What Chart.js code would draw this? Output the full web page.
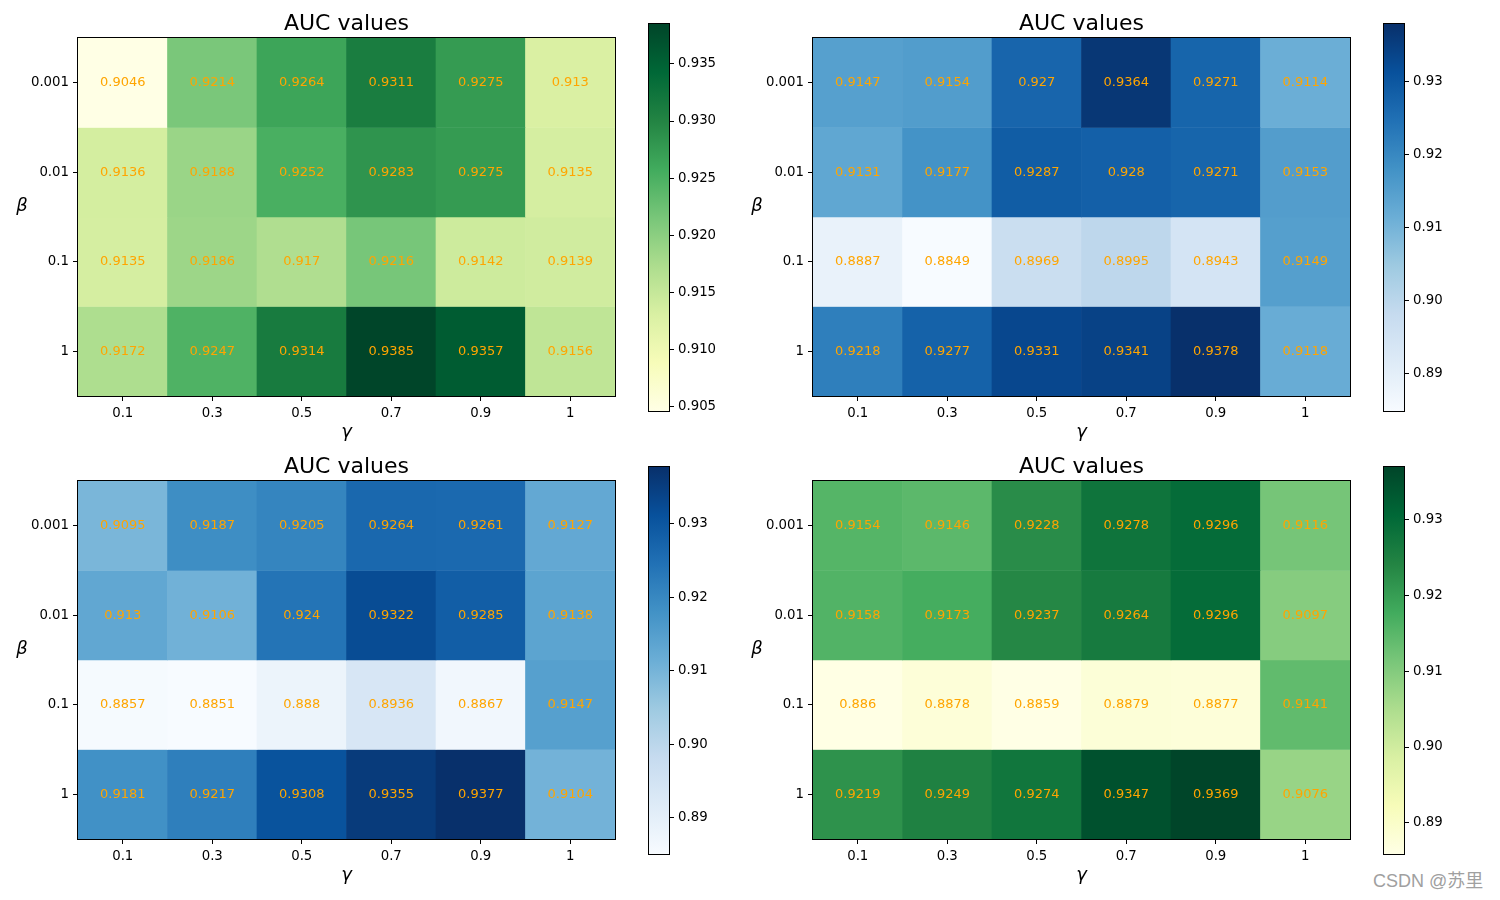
<!DOCTYPE html>
<html>
<head>
<meta charset="utf-8">
<script src="https://cdn.jsdelivr.net/npm/chart.js@4.4.1/dist/chart.umd.min.js"></script>
<style>
  body { margin: 0; background: #fff; width: 1500px; height: 900px; position: relative; overflow: hidden; }
  canvas { position: absolute; }
  #mark { position: absolute; left: 1373px; top: 869px; font-size: 18px; line-height: 24px; color: #a0a0a0;
          font-family: "Liberation Sans", "Noto Sans CJK SC", sans-serif; }
</style>
</head>
<body>
<div id="mark">CSDN @苏里</div>
<script>
// axis labels
const gammaLabels = ["0.1", "0.3", "0.5", "0.7", "0.9", "1"];
const betaLabels = ["0.001", "0.01", "0.1", "1"];

// AUC grids, one row per beta (top to bottom), one column per gamma
const aucTopLeft = [
  [0.9046, 0.9214, 0.9264, 0.9311, 0.9275, 0.913],
  [0.9136, 0.9188, 0.9252, 0.9283, 0.9275, 0.9135],
  [0.9135, 0.9186, 0.917, 0.9216, 0.9142, 0.9139],
  [0.9172, 0.9247, 0.9314, 0.9385, 0.9357, 0.9156]
];
const aucTopRight = [
  [0.9147, 0.9154, 0.927, 0.9364, 0.9271, 0.9114],
  [0.9131, 0.9177, 0.9287, 0.928, 0.9271, 0.9153],
  [0.8887, 0.8849, 0.8969, 0.8995, 0.8943, 0.9149],
  [0.9218, 0.9277, 0.9331, 0.9341, 0.9378, 0.9118]
];
const aucBottomLeft = [
  [0.9095, 0.9187, 0.9205, 0.9264, 0.9261, 0.9127],
  [0.913, 0.9106, 0.924, 0.9322, 0.9285, 0.9138],
  [0.8857, 0.8851, 0.888, 0.8936, 0.8867, 0.9147],
  [0.9181, 0.9217, 0.9308, 0.9355, 0.9377, 0.9104]
];
const aucBottomRight = [
  [0.9154, 0.9146, 0.9228, 0.9278, 0.9296, 0.9116],
  [0.9158, 0.9173, 0.9237, 0.9264, 0.9296, 0.9097],
  [0.886, 0.8878, 0.8859, 0.8879, 0.8877, 0.9141],
  [0.9219, 0.9249, 0.9274, 0.9347, 0.9369, 0.9076]
];

// matplotlib colormaps (ColorBrewer anchors)
const BLUES = ["#f7fbff", "#deebf7", "#c6dbef", "#9ecae1", "#6baed6", "#4292c6", "#2171b5", "#08519c", "#08306b"];
const YLGN = ["#ffffe5", "#f7fcb9", "#d9f0a3", "#addd8e", "#78c679", "#41ab5d", "#238443", "#006837", "#004529"];

const FONT = "'DejaVu Sans', sans-serif";

function hexRgb(h) {
  return [1, 3, 5].map((i) => parseInt(h.substr(i, 2), 16));
}

function colorAt(cmap, t) {
  t = Math.max(0, Math.min(1, t));
  const p = t * (cmap.length - 1);
  const i = Math.min(Math.floor(p), cmap.length - 2);
  const f = p - i;
  const a = hexRgb(cmap[i]), b = hexRgb(cmap[i + 1]);
  return "rgb(" + a.map((c, k) => Math.round(c + (b[k] - c) * f)).join(",") + ")";
}

function addCanvas(left, top, w, h) {
  const cv = document.createElement("canvas");
  cv.width = w;
  cv.height = h;
  cv.style.left = left + "px";
  cv.style.top = top + "px";
  document.body.appendChild(cv);
  return cv;
}

// black frame round the plot area
const framePlugin = {
  id: "frame",
  afterDraw(chart) {
    const a = chart.chartArea;
    const ctx = chart.ctx;
    ctx.save();
    ctx.strokeStyle = "#000";
    ctx.lineWidth = 1;
    ctx.strokeRect(Math.round(a.left) - 0.5, Math.round(a.top) - 0.5,
      Math.round(a.right - a.left) + 1, Math.round(a.bottom - a.top) + 1);
    ctx.restore();
  }
};

// cell values, title and axis labels
const heatTextPlugin = {
  id: "heatText",
  afterDatasetsDraw(chart) {
    const ctx = chart.ctx;
    const a = chart.chartArea;
    ctx.save();
    ctx.fillStyle = "#ffa500";
    ctx.font = "13px " + FONT;
    ctx.textAlign = "center";
    ctx.textBaseline = "middle";
    chart.data.datasets.forEach((ds, i) => {
      chart.getDatasetMeta(i).data.forEach((el, j) => {
        ctx.fillText(String(ds.auc[j]), el.x, (el.y + el.base) / 2);
      });
    });
    ctx.fillStyle = "#000";
    ctx.textBaseline = "alphabetic";
    const cx = (a.left + a.right) / 2;
    ctx.font = "22px " + FONT;
    ctx.fillText("AUC values", cx, a.top - 8);
    ctx.font = "italic 18px " + FONT;
    ctx.fillText("γ", cx, a.bottom + 41);
    ctx.fillText("β", a.left - 56, a.top + 173);
    ctx.restore();
  }
};

const tickFont = { family: FONT, size: 13.3 };

function drawPanel(data, cmap, left, top, step, digits) {
  const all = data.flat();
  const lo = Math.min(...all);
  const hi = Math.max(...all);

  const cv = addCanvas(left, top, 640, 450);
  new Chart(cv, {
    type: "bar",
    data: {
      labels: gammaLabels,
      datasets: data.map((row, i) => ({
        data: row.map(() => [i, i + 1]),
        auc: row,
        backgroundColor: row.map((v) => colorAt(cmap, (v - lo) / (hi - lo))),
        grouped: false,
        barPercentage: 1,
        categoryPercentage: 1,
        borderWidth: 0
      }))
    },
    options: {
      responsive: false,
      animation: false,
      layout: { padding: { top: 37, right: 25, left: 0, bottom: 0 } },
      plugins: { legend: { display: false }, tooltip: { enabled: false } },
      scales: {
        x: {
          grid: { offset: false, drawOnChartArea: false, color: "#000", tickLength: 5 },
          border: { display: false },
          ticks: { color: "#000", font: tickFont, padding: 5, maxRotation: 0 },
          afterFit: (s) => { s.height = 55; }
        },
        y: {
          type: "linear",
          reverse: true,
          min: 0,
          max: betaLabels.length,
          grid: { drawOnChartArea: false, color: "#000", tickLength: 5 },
          border: { display: false },
          ticks: { color: "#000", font: tickFont, padding: 4, callback: (v) => betaLabels[Math.floor(v)] },
          afterBuildTicks: (s) => { s.ticks = betaLabels.map((b, i) => ({ value: i + 0.5 })); },
          afterFit: (s) => { s.width = 78; }
        }
      }
    },
    plugins: [framePlugin, heatTextPlugin]
  });

  // colour bar
  const cb = addCanvas(left + 640, top + 10, 95, 420);
  new Chart(cb, {
    type: "bar",
    data: {
      labels: [""],
      datasets: [{
        data: [[lo, hi]],
        backgroundColor: (ctx) => {
          const area = ctx.chart.chartArea;
          if (!area) return null;
          const g = ctx.chart.ctx.createLinearGradient(0, area.bottom, 0, area.top);
          cmap.forEach((c, k) => g.addColorStop(k / (cmap.length - 1), c));
          return g;
        },
        barPercentage: 1,
        categoryPercentage: 1,
        borderWidth: 0
      }]
    },
    options: {
      responsive: false,
      animation: false,
      layout: { padding: { left: 9, top: 13, bottom: 20, right: 0 } },
      plugins: { legend: { display: false }, tooltip: { enabled: false } },
      scales: {
        x: { display: false },
        y: {
          position: "right",
          min: lo,
          max: hi,
          grid: { drawOnChartArea: false, color: "#000", tickLength: 5 },
          border: { display: false },
          ticks: {
            stepSize: step,
            includeBounds: false,
            color: "#000",
            font: tickFont,
            padding: 4,
            callback: (v) => v.toFixed(digits)
          },
          afterFit: (s) => { s.width = 66; }
        }
      }
    },
    plugins: [framePlugin]
  });
}

drawPanel(aucTopLeft, YLGN, 0, 1, 0.005, 3);
drawPanel(aucTopRight, BLUES, 735, 1, 0.01, 2);
drawPanel(aucBottomLeft, BLUES, 0, 444, 0.01, 2);
drawPanel(aucBottomRight, YLGN, 735, 444, 0.01, 2);
</script>
</body>
</html>
